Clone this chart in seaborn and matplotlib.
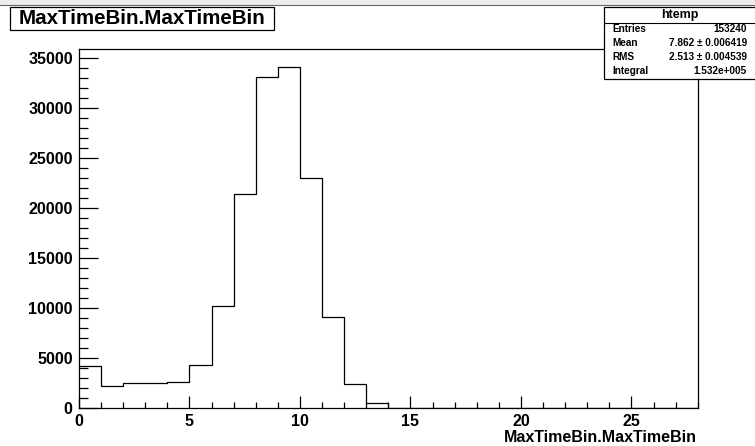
import numpy as np
import pandas as pd
import matplotlib
matplotlib.use("Agg")
import matplotlib.pyplot as plt
from matplotlib.patches import Rectangle
from matplotlib.lines import Line2D
from matplotlib.ticker import MultipleLocator
import seaborn as sns

# ---- data ----
bin_edges = list(range(0, 29))
counts = [4200, 2250, 2540, 2550, 2640, 4320, 10240, 21460, 33090, 34090,
          23010, 9110, 2425, 500, 80, 60, 0, 0, 0, 0,
          0, 0, 0, 0, 0, 0, 0, 0]
title_text = "MaxTimeBin.MaxTimeBin"
xlabel_text = "MaxTimeBin.MaxTimeBin"
stats_name = "htemp"
stats_labels = ["Entries", "Mean", "RMS", "Integral"]
stats_values = ["153240", "7.862 \u00b1 0.006419", "2.513 \u00b1 0.004539", "1.532e+005"]

sns.set_theme(style="white")
plt.rcParams['font.family'] = ['Liberation Sans', 'DejaVu Sans']

W, H = 755, 446
fig = plt.figure(figsize=(W / 100, H / 100), dpi=100)
fig.patch.set_facecolor("white")

def fx(px):
    return px / W

def fy(py):
    return 1 - py / H

left, right, top, bottom = 79, 697.7, 49, 408.3
ax = fig.add_axes([fx(left), fy(bottom), fx(right) - fx(left), fy(top) - fy(bottom)])

df = pd.DataFrame({
    "x": [(bin_edges[i] + bin_edges[i + 1]) / 2 for i in range(len(counts))],
    "w": counts,
})
sns.histplot(data=df, x="x", weights="w", bins=bin_edges, element="step",
             fill=False, color="black", linewidth=0.9, ax=ax)

ax.set_xlim(0, 28)
ax.set_ylim(0, max(counts) * 1.054)
ax.set_xlabel("")
ax.set_ylabel("")

for s in ax.spines.values():
    s.set_color("black")
    s.set_linewidth(0.9)

ax.xaxis.set_major_locator(MultipleLocator(5))
ax.xaxis.set_minor_locator(MultipleLocator(1))
ax.yaxis.set_major_locator(MultipleLocator(5000))
ax.yaxis.set_minor_locator(MultipleLocator(1000))
ax.tick_params(axis="x", which="major", direction="in", length=8.6, width=0.9,
               color="black", bottom=True, top=False, pad=4,
               labelsize=11.5, labelcolor="black")
ax.tick_params(axis="x", which="minor", direction="in", length=4.3, width=0.9,
               color="black", bottom=True, top=False)
ax.tick_params(axis="y", which="major", direction="in", length=13.4, width=0.9,
               color="black", left=True, right=False, pad=4.5,
               labelsize=11.5, labelcolor="black")
ax.tick_params(axis="y", which="minor", direction="in", length=6.5, width=0.9,
               color="black", left=True, right=False)
for lab in ax.get_xticklabels() + ax.get_yticklabels():
    lab.set_fontweight("bold")
ax.grid(False)

# x label, right aligned
fig.text(fx(697), fy(438), xlabel_text, ha="right", va="center",
         fontsize=11.5, fontweight="bold", color="black")

# top canvas edge line
fig.add_artist(Rectangle((0, fy(4.5)), 1, 1 - fy(4.5), transform=fig.transFigure,
                         facecolor="#ececec", edgecolor="none"))
fig.add_artist(Line2D([0, 1], [fy(4.5), fy(4.5)], transform=fig.transFigure,
                      color="#666666", linewidth=0.8))

# title box
fig.add_artist(Rectangle((fx(10), fy(30)), fx(274) - fx(10), fy(7) - fy(30),
                         transform=fig.transFigure, facecolor="white",
                         edgecolor="black", linewidth=0.9))
fig.text(fx(142), fy(18.5), title_text, ha="center", va="center",
         fontsize=14.8, fontweight="bold", color="black")

# stats box
bx0, by0, bx1, by1 = 604, 7, 756, 79
fig.add_artist(Rectangle((fx(bx0), fy(by1)), fx(bx1) - fx(bx0), fy(by0) - fy(by1),
                         transform=fig.transFigure, facecolor="white",
                         edgecolor="black", linewidth=0.9, zorder=5))
fig.add_artist(Line2D([fx(bx0), fx(bx1)], [fy(22.7), fy(22.7)],
                      transform=fig.transFigure, color="black", linewidth=0.8,
                      zorder=6))
fig.text(fx((bx0 + 755) / 2), fy(15), stats_name, ha="center", va="center",
         fontsize=9, fontweight="bold", color="black", zorder=7)
row_y = [29, 43, 57, 71]
for lab, val, ry in zip(stats_labels, stats_values, row_y):
    fig.text(fx(612.5), fy(ry), lab, ha="left", va="center", fontsize=7.2,
             fontweight="bold", color="black", zorder=7)
    fig.text(fx(747), fy(ry), val, ha="right", va="center", fontsize=7.2,
             fontweight="bold", color="black", zorder=7)

fig.savefig("out.png", dpi=100)
